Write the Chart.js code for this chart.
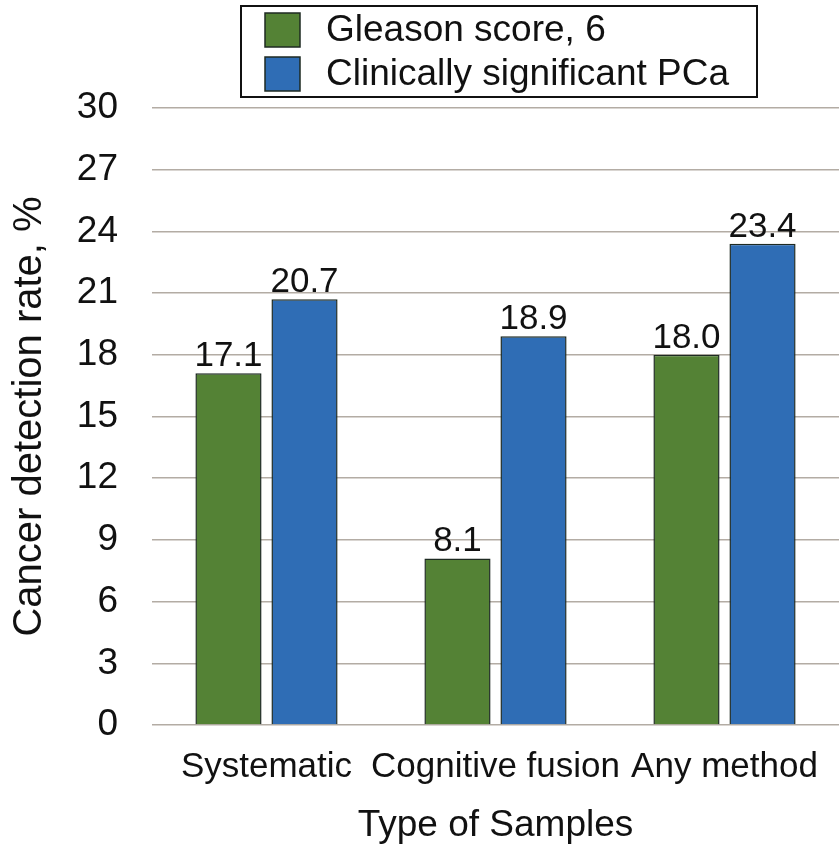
<!DOCTYPE html>
<html>
<head>
<meta charset="utf-8">
<script src="https://cdn.jsdelivr.net/npm/chart.js@4.4.1/dist/chart.umd.min.js"></script>
<style>
  html, body { margin: 0; padding: 0; background: #fff; }
  #wrap { width: 839px; height: 849px; }
</style>
</head>
<body>
<div id="wrap"><canvas id="chart" width="839" height="849"></canvas></div>
<script>
// data
const categories = ['Systematic', 'Cognitive fusion', 'Any method'];
const seriesNames = ['Gleason score, 6', 'Clinically significant PCa'];
const gleason6 = [17.1, 8.1, 18.0];
const clinSignificant = [20.7, 18.9, 23.4];
const yTicks = [0, 3, 6, 9, 12, 15, 18, 21, 24, 27, 30];

const FONT = '"Liberation Sans", Arial, Helvetica, sans-serif';
const green = '#548235';
const blue = '#2f6db5';
const edge = '#1e2a22';

// value labels above each bar
const barValues = {
    id: 'barValues',
    afterDatasetsDraw(chart) {
        const ctx = chart.ctx;
        ctx.save();
        ctx.font = '35px ' + FONT;
        ctx.fillStyle = '#111';
        ctx.textAlign = 'center';
        ctx.textBaseline = 'alphabetic';
        chart.data.datasets.forEach((ds, i) => {
            chart.getDatasetMeta(i).data.forEach((bar, j) => {
                ctx.fillText(ds.data[j].toFixed(1), bar.x, bar.y - 7);
            });
        });
        ctx.restore();
    }
};

// boxed legend with the two series stacked
const boxLegend = {
    id: 'boxLegend',
    afterDraw(chart) {
        const ctx = chart.ctx;
        ctx.save();
        ctx.strokeStyle = '#111';
        ctx.lineWidth = 2;
        ctx.strokeRect(241, 6, 516, 91);
        ctx.font = '37px ' + FONT;
        ctx.textBaseline = 'middle';
        ctx.textAlign = 'left';
        chart.data.datasets.forEach((ds, i) => {
            const y = 13 + i * 44;
            ctx.fillStyle = ds.backgroundColor;
            ctx.fillRect(265, y, 35, 34);
            ctx.strokeStyle = edge;
            ctx.lineWidth = 1.5;
            ctx.strokeRect(265, y, 35, 34);
            ctx.fillStyle = '#111';
            ctx.fillText(ds.label, 326, y + 18);
        });
        ctx.restore();
    }
};

new Chart(document.getElementById('chart'), {
    type: 'bar',
    data: {
        labels: categories,
        datasets: [
            {
                label: seriesNames[0],
                data: gleason6,
                backgroundColor: green,
                borderColor: edge,
                borderWidth: 1.5,
                categoryPercentage: 0.664,
                barPercentage: 0.87
            },
            {
                label: seriesNames[1],
                data: clinSignificant,
                backgroundColor: blue,
                borderColor: edge,
                borderWidth: 1.5,
                categoryPercentage: 0.664,
                barPercentage: 0.87
            }
        ]
    },
    options: {
        responsive: false,
        animation: false,
        layout: { padding: { top: 108, right: 0, left: 0, bottom: 0 } },
        plugins: {
            legend: { display: false },
            tooltip: { enabled: false }
        },
        scales: {
            x: {
                grid: { display: false },
                border: { display: false },
                ticks: {
                    color: '#111',
                    font: { family: FONT, size: 35 },
                    padding: 13,
                    maxRotation: 0,
                    autoSkip: false
                },
                title: {
                    display: true,
                    text: 'Type of Samples',
                    color: '#111',
                    font: { family: FONT, size: 37 },
                    padding: { top: 0, bottom: 1 }
                },
                afterFit(scale) { scale.height = 124; }
            },
            y: {
                min: 0,
                max: 30,
                afterBuildTicks(scale) { scale.ticks = yTicks.map(v => ({ value: v })); },
                grid: { color: '#b3aca4', lineWidth: 1.5, drawTicks: false },
                border: { display: false },
                ticks: {
                    color: '#111',
                    font: { family: FONT, size: 37 },
                    padding: 34
                },
                title: {
                    display: true,
                    text: 'Cancer detection rate, %',
                    color: '#111',
                    font: { family: FONT, size: 40 },
                    padding: { top: 6, bottom: 0 }
                },
                afterFit(scale) { scale.width = 152; }
            }
        }
    },
    plugins: [barValues, boxLegend]
});
</script>
</body>
</html>
